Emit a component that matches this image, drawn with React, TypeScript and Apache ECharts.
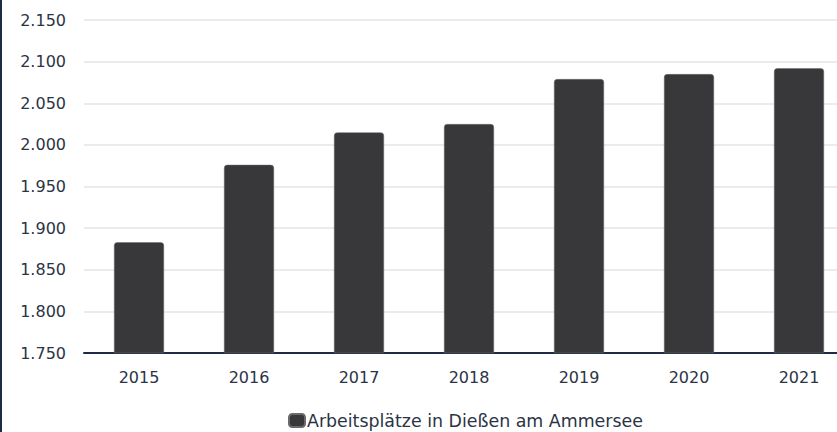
import React, { useEffect, useRef } from "react";
import * as echarts from "echarts";

const years = ["2015", "2016", "2017", "2018", "2019", "2020", "2021"];
const jobs = [1883, 1976, 2015, 2025, 2079, 2085, 2092];
const seriesName = "Arbeitsplätze in Dießen am Ammersee";
const yMin = 1750;
const yMax = 2150;
const yStep = 50;

const fmt = (v: number) => {
  const s = String(Math.round(v));
  return s.length > 3 ? s.slice(0, s.length - 3) + "." + s.slice(-3) : s;
};

export default function App() {
  const ref = useRef<HTMLDivElement>(null);
  useEffect(() => {
    if (!ref.current) return;
    const chart = echarts.init(ref.current, undefined, { renderer: "svg" });
    const font = "'DejaVu Sans', sans-serif";
    chart.setOption({
      animation: false,
      textStyle: { fontFamily: font },
      grid: {
        left: 84,
        width: 770,
        top: 20,
        height: 333,
        containLabel: false,
        outerBoundsMode: "none",
      },
      legend: {
        left: 288,
        top: 412,
        padding: 0,
        itemWidth: 16,
        itemHeight: 13,
        itemGap: 10,
        icon: "roundRect",
        textStyle: {
          fontSize: 17.4,
          lineHeight: 16,
          color: "#2b3445",
          fontFamily: font,
          padding: [0, 0, 0, -3],
        },
        data: [seriesName],
      },
      xAxis: {
        type: "category",
        data: years,
        axisLine: { lineStyle: { color: "#1f2a44", width: 2 } },
        axisTick: { show: false },
        axisLabel: { color: "#2b3445", fontSize: 16, margin: 16, fontFamily: font },
      },
      yAxis: {
        type: "value",
        min: yMin,
        max: yMax,
        interval: yStep,
        axisLine: { show: false },
        axisTick: { show: false },
        splitLine: { lineStyle: { color: "#e5e5e5", width: 1.5 } },
        axisLabel: {
          color: "#2b3445",
          fontSize: 16,
          margin: 18,
          fontFamily: font,
          formatter: (v: number) => fmt(v),
        },
      },
      graphic: [
        {
          type: "rect",
          left: 0,
          top: 0,
          shape: { width: 2, height: 432 },
          style: { fill: "#1f2a44" },
        },
      ],
      series: [
        {
          name: seriesName,
          type: "bar",
          data: jobs,
          barWidth: 50,
          itemStyle: {
            color: "#38383a",
            borderRadius: [3, 3, 0, 0],
            borderColor: "#6a6a6a",
            borderWidth: 0.5,
          },
        },
      ],
    });
    return () => chart.dispose();
  }, []);
  return (
    <div
      ref={ref}
      style={{ position: "absolute", left: 0, top: 0, width: 837, height: 432, background: "#fff" }}
    />
  );
}
